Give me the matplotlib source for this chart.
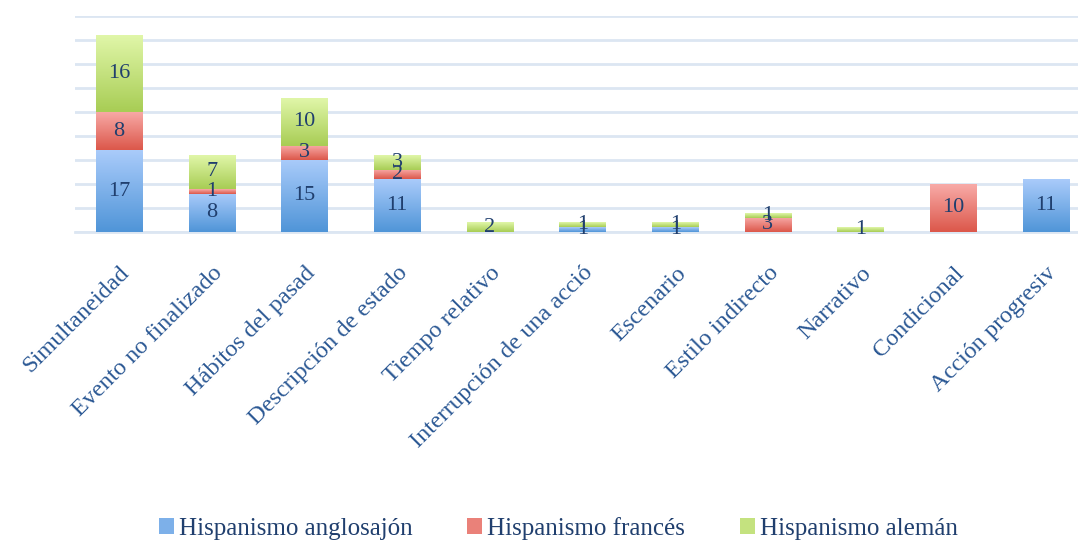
import matplotlib.pyplot as plt
import matplotlib.colors as mcolors
import numpy as np

categorias = ['Simultaneidad', 'Evento no finalizado', 'Hábitos del pasad',
              'Descripción de estado', 'Tiempo relativo', 'Interrupción de una acció',
              'Escenario', 'Estilo indirecto', 'Narrativo', 'Condicional', 'Acción progresiv']
anglosajon = [17, 8, 15, 11, 0, 1, 1, 0, 0, 0, 11]
frances = [8, 1, 3, 2, 0, 0, 0, 3, 0, 10, 0]
aleman = [16, 7, 10, 3, 2, 1, 1, 1, 1, 0, 0]
series = ['Hispanismo anglosajón', 'Hispanismo francés', 'Hispanismo alemán']

# gradient colours top -> bottom
grad = [('#a9cbfa', '#5095d8'), ('#f8aaa7', '#dc584b'), ('#e0f6a8', '#a8cd55')]
txt = '#203f6e'
txt2 = '#2b5894'
plt.rcParams['font.family'] = ['Liberation Serif', 'DejaVu Serif']

fig = plt.figure(figsize=(10.78, 5.4), dpi=100)
ax = fig.add_axes([0.0696, 0.5704, 0.9304, 0.40])

x = np.arange(len(categorias))
bottom = np.zeros(len(categorias))
handles = []
for vals, (ctop, cbot), name in zip([anglosajon, frances, aleman], grad, series):
    vals = np.array(vals, dtype=float)
    bars = ax.bar(x, vals, 0.5, bottom=bottom, color='none', edgecolor='none', zorder=3, label=name)
    cmap = mcolors.LinearSegmentedColormap.from_list('g', [cbot, ctop])
    for b, v in zip(bars, vals):
        if v <= 0:
            continue
        x0, y0 = b.get_x(), b.get_y()
        w, h = b.get_width(), b.get_height()
        ax.imshow(np.linspace(0, 1, 50).reshape(-1, 1), cmap=cmap, origin='lower',
                  extent=[x0, x0 + w, y0, y0 + h], aspect='auto', zorder=3)
    labs = [str(int(v)) if v > 0 else '' for v in vals]
    ax.bar_label(bars, labels=labs, label_type='center', color=txt, fontsize=16, zorder=5)
    bottom += vals
    handles.append(plt.Rectangle((0, 0), 1, 1, facecolor=cmap(0.5), edgecolor='none'))

ax.set_xlim(-0.475, 10.345)
ax.set_ylim(0, 45)
ax.set_yticks(np.arange(0, 46, 5))
ax.yaxis.grid(True, color='#dce6f2', linewidth=2, zorder=0)
ax.set_axisbelow(True)
ax.tick_params(axis='y', left=False, labelleft=False)
ax.tick_params(axis='x', length=0, pad=22)
for s in ['top', 'right', 'left']:
    ax.spines[s].set_visible(False)
ax.spines['bottom'].set_color('#dce6f2')
ax.spines['bottom'].set_linewidth(2)
ax.set_xticks(x)
ax.set_xticklabels(categorias, rotation=45, ha='right', rotation_mode='anchor',
                   color=txt2, fontsize=17.5)

fig.legend(handles, series, loc='center', ncol=3, frameon=False,
           bbox_to_anchor=(0.518, 0.022), handlelength=0.6, handleheight=0.6,
           handletextpad=0.2, columnspacing=2.2, fontsize=18, labelcolor=txt)

fig.savefig('out.png', dpi=100)
